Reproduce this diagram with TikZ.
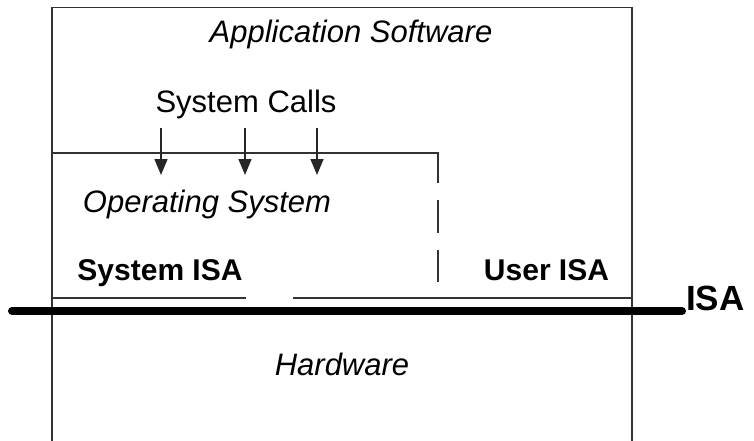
\documentclass[tikz,border=0pt]{standalone}
\usepackage{fontspec}
\setmainfont{Liberation Sans}
\usetikzlibrary{arrows.meta}
\tikzset{
    layertext/.style={anchor=base, inner sep=0pt, font=\fontsize{31}{37}\selectfont\itshape},
    plaintext/.style={anchor=base, inner sep=0pt, font=\fontsize{31}{37}\selectfont},
    isatext/.style={anchor=base, inner sep=0pt, font=\fontsize{30}{36}\selectfont\bfseries},
    thinline/.style={draw=black!80, line width=1.4pt},
    callarrow/.style={draw=black!85, line width=1.5pt, -{Triangle[length=16pt, width=13pt]}}
}
\begin{document}
\begin{tikzpicture}[x=1pt, y=-1pt]
    \useasboundingbox (0,0) rectangle (754,441);

    % outer box (open at the bottom)
    \coordinate (boxbl) at (52,441);
    \coordinate (boxtl) at (52,7.5);
    \coordinate (boxtr) at (632,7.5);
    \coordinate (boxbr) at (632,441);
    \draw[thinline] (boxbl) -- (boxtl) -- (boxtr) -- (boxbr);

    % operating system box
    \coordinate (ostl) at (52,153);
    \coordinate (ostr) at (438,153);
    \draw[thinline] (ostl) -- (ostr) -- (438,183);
    \draw[thinline] (438,200) -- (438,233);
    \draw[thinline] (438,250) -- (438,282);

    % thin line above the ISA
    \draw[thinline] (52,298) -- (246,298);
    \draw[thinline] (293,298) -- (632,298);

    % the ISA
    \coordinate (isaleft) at (12,311);
    \coordinate (isaright) at (682,311);
    \draw[line width=8pt, line cap=round] (isaleft) -- (isaright);

    % labels
    \node[layertext] (app) at (351,43) {Application Software};
    \node[plaintext] (calls) at (246,113) {System Calls};
    \node[layertext] (os) at (207,212) {Operating System};
    \node[isatext] (sysisa) at (160,280) {System ISA};
    \node[isatext] (userisa) at (546.5,280) {User ISA};
    \node[isatext, anchor=base west, font=\fontsize{35}{40}\selectfont\bfseries] (isa) at (686,310) {ISA};
    \node[layertext] (hw) at (342,375) {Hardware};

    % system calls
    \foreach \x/\name in {161/one, 245/two, 317/three} {
        \coordinate (call\name) at (\x,128);
        \coordinate (enter\name) at (\x,175);
        \draw[callarrow] (call\name) -- (enter\name);
    }
\end{tikzpicture}
\end{document}
